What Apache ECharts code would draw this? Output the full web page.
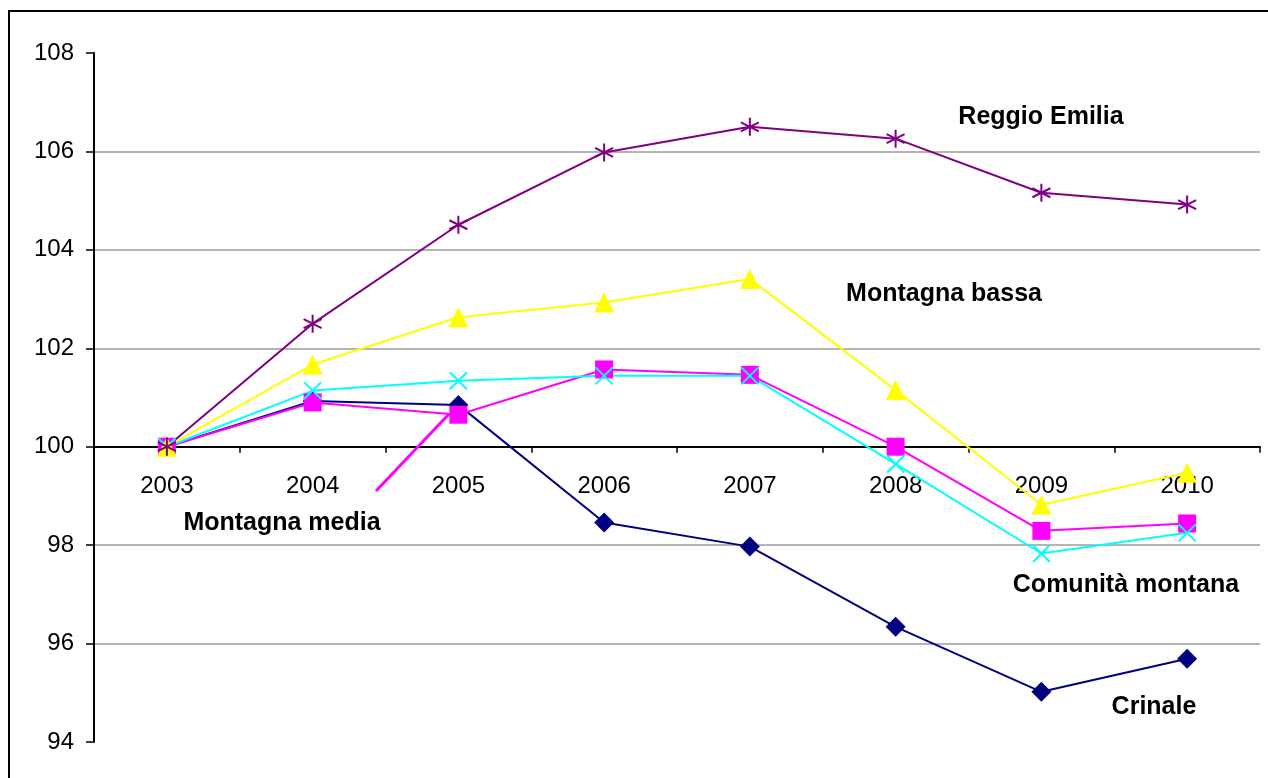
<!DOCTYPE html>
<html>
<head>
<meta charset="utf-8">
<script src="https://cdn.jsdelivr.net/npm/echarts@6/dist/echarts.min.js"></script>
<style>
html,body{margin:0;padding:0;background:#fff;}
#c{width:1268px;height:778px;}
</style>
</head>
<body>
<div id="c"></div>
<script>
const years = ['2003','2004','2005','2006','2007','2008','2009','2010'];
const reggioEmilia = [100, 102.5, 104.51, 105.98, 106.5, 106.26, 105.16, 104.92];
const montagnaBassa = [100, 101.67, 102.63, 102.93, 103.41, 101.15, 98.82, 99.47];
const comunitaMontana = [100, 101.14, 101.34, 101.44, 101.44, 99.65, 97.83, 98.25];
const montagnaMedia = [100, 100.9, 100.65, 101.57, 101.46, 100.0, 98.29, 98.44];
const crinale = [100, 100.93, 100.85, 98.46, 97.97, 96.34, 95.02, 95.69];
const yMin = 94, yMax = 108, yStep = 2, baseLine = 100;

const gridTop = 53, gridBottom = 36, H = 778;
const gridH = H - gridTop - gridBottom;
const xOffset = -gridH * (baseLine - yMin) / (yMax - yMin);

const starPath = 'path://M0,-10L0,10M-8.66,-5L8.66,5M-8.66,5L8.66,-5';
const xPath = 'path://M-10,-10L10,10M-10,10L10,-10';

function mk(name, data, color, symbol, size, stroke) {
  return {
    name, type: 'line', data,
    symbol, symbolSize: size,
    lineStyle: {color, width: 2},
    itemStyle: stroke ? {color: 'rgba(0,0,0,0)', borderColor: color, borderWidth: 2} : {color, borderWidth: 0},
    emphasis: {disabled: true},
    animation: false
  };
}

const chart = echarts.init(document.getElementById('c'));
chart.setOption({
  backgroundColor: '#fff',
  animation: false,
  grid: {left: 94, right: 8, top: gridTop, bottom: gridBottom, containLabel: false},
  xAxis: {
    type: 'category', data: years, boundaryGap: true, position: 'bottom', offset: xOffset,
    axisLine: {show: true, lineStyle: {color: '#000', width: 2}},
    axisTick: {show: true, length: 6, lineStyle: {color: '#000', width: 1.5}},
    axisLabel: {color: '#000', fontSize: 24, fontFamily: 'Liberation Sans, Arial', margin: 28},
    splitLine: {show: false}
  },
  yAxis: {
    type: 'value', min: yMin, max: yMax, interval: yStep,
    axisLine: {show: true, lineStyle: {color: '#000', width: 2}},
    axisTick: {show: true, length: 8, lineStyle: {color: '#000', width: 1.5}},
    axisLabel: {color: '#000', fontSize: 24, fontFamily: 'Liberation Sans, Arial', margin: 20},
    splitLine: {show: true, showMinLine: false, showMaxLine: false, lineStyle: {color: '#b4b4b4', width: 2}}
  },
  series: [
    mk('Crinale', crinale, '#000080', 'diamond', 20, false),
    mk('Montagna media', montagnaMedia, '#ff00ff', 'rect', 18, false),
    mk('Comunità montana', comunitaMontana, '#00ffff', xPath, 17, true),
    mk('Montagna bassa', montagnaBassa, '#ffff00', 'triangle', 20, false),
    mk('Reggio Emilia', reggioEmilia, '#800080', starPath, 18, true)
  ],
  graphic: [
    {type: 'rect', shape: {x: 9, y: 11, width: 1300, height: 800}, style: {fill: 'none', stroke: '#000', lineWidth: 2}, silent: true},
    {type: 'line', shape: {x1: 376, y1: 491, x2: 449, y2: 414}, style: {stroke: '#ff00ff', lineWidth: 3}, z: 1},
    {type: 'text', x: 1041, y: 117, style: {text: 'Reggio Emilia', font: 'bold 25px "Liberation Sans", Arial', fill: '#000', align: 'center', verticalAlign: 'middle'}},
    {type: 'text', x: 944, y: 294, style: {text: 'Montagna bassa', font: 'bold 25px "Liberation Sans", Arial', fill: '#000', align: 'center', verticalAlign: 'middle'}},
    {type: 'text', x: 282, y: 523, style: {text: 'Montagna media', font: 'bold 25px "Liberation Sans", Arial', fill: '#000', align: 'center', verticalAlign: 'middle'}},
    {type: 'text', x: 1126, y: 585, style: {text: 'Comunità montana', font: 'bold 25px "Liberation Sans", Arial', fill: '#000', align: 'center', verticalAlign: 'middle'}},
    {type: 'text', x: 1154, y: 707, style: {text: 'Crinale', font: 'bold 25px "Liberation Sans", Arial', fill: '#000', align: 'center', verticalAlign: 'middle'}}
  ]
});
</script>
</body>
</html>
